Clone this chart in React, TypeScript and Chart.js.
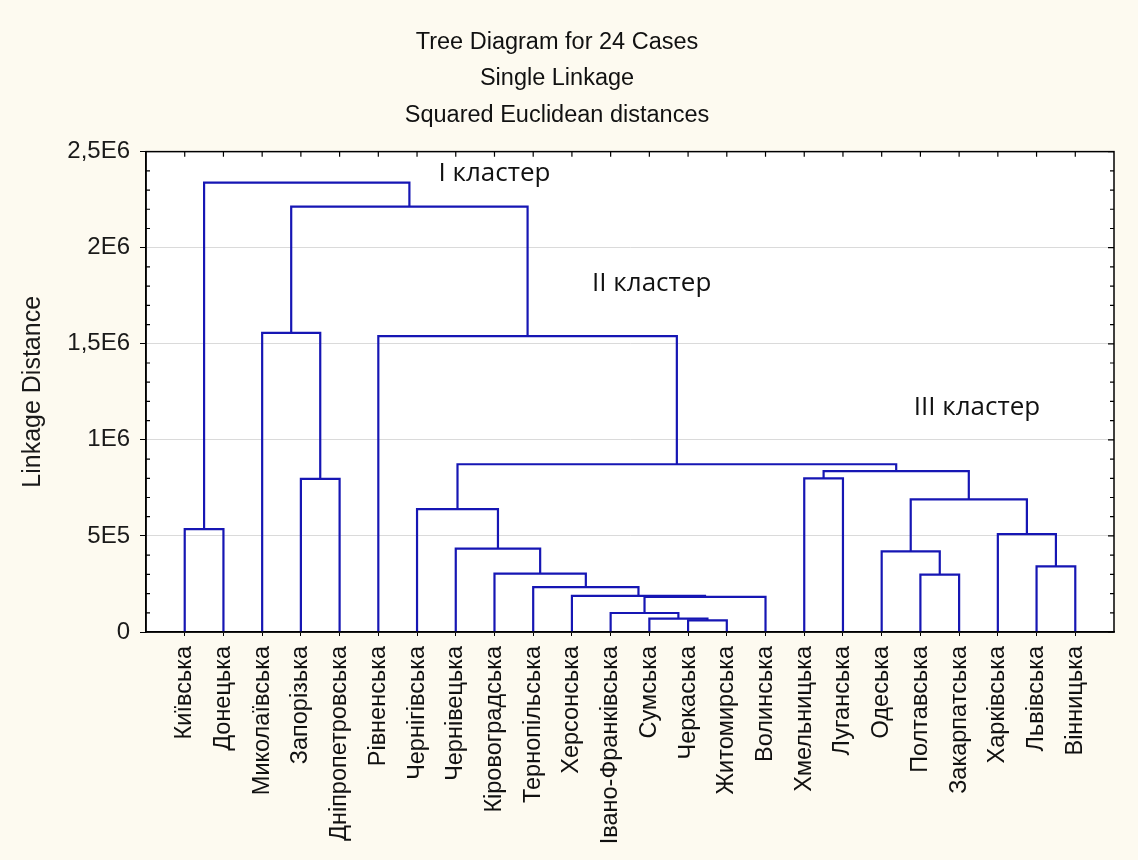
import React, { useEffect, useRef } from "react";
import { Chart, registerables } from "chart.js";

Chart.register(...registerables);

// ---- Data ----
const regions: string[] = [
  "Київська", "Донецька", "Миколаївська", "Запорізька", "Дніпропетровська",
  "Рівненська", "Чернігівська", "Чернівецька", "Кіровоградська", "Тернопільська",
  "Херсонська", "Івано-Франківська", "Сумська", "Черкаська", "Житомирська",
  "Волинська", "Хмельницька", "Луганська", "Одеська", "Полтавська",
  "Закарпатська", "Харківська", "Львівська", "Вінницька",
];

// merge k creates node id 24 + k ; ids < 24 are leaves (index in regions)
const mergeLeft: number[] = [13, 12, 11, 26, 10, 9, 19, 8, 22, 18, 7, 21, 0, 6, 33, 3, 16, 40, 37, 5, 2, 44, 36];
const mergeRight: number[] = [14, 24, 25, 15, 27, 28, 20, 29, 23, 30, 31, 32, 1, 34, 35, 4, 17, 38, 41, 42, 39, 43, 45];
const mergeHeight: number[] = [
  61000, 70000, 99000, 183000, 188000, 234000, 299000, 304000, 342000, 420000,
  434000, 509000, 535000, 639000, 690000, 797000, 799000, 837000, 873000,
  1540000, 1557000, 2214000, 2339000,
];

const yTickValues: number[] = [0, 500000, 1000000, 1500000, 2000000, 2500000];
const yTickLabels: string[] = ["0", "5E5", "1E6", "1,5E6", "2E6", "2,5E6"];

const titleLines: string[] = ["Tree Diagram for 24 Cases", "Single Linkage", "Squared Euclidean distances"];
const yAxisTitle = "Linkage Distance";

const clusterLabels: string[] = ["I кластер", "II кластер", "III кластер"];
// annotation anchors in data units (x: leaf axis, y: linkage distance)
const clusterLabelX: number[] = [9.0, 13.06, 21.46];
const clusterLabelY: number[] = [2384000, 1811000, 1170000];

const LINE_COLOR = "#1616b4";
const BG = "#fdfaf0";

function buildSegments() {
  const n = regions.length;
  const center: number[] = regions.map((_, i) => i + 1);
  const height: number[] = regions.map(() => 0);
  const segs: { x: number; y: number }[][] = [];
  for (let k = 0; k < mergeHeight.length; k++) {
    const a = mergeLeft[k];
    const b = mergeRight[k];
    const h = mergeHeight[k];
    segs.push([
      { x: center[a], y: height[a] },
      { x: center[a], y: h },
      { x: center[b], y: h },
      { x: center[b], y: height[b] },
    ]);
    center[n + k] = (center[a] + center[b]) / 2;
    height[n + k] = h;
  }
  return segs;
}

const framePlugin = {
  id: "frame",
  beforeDraw(chart: any) {
    const { ctx, chartArea } = chart;
    ctx.save();
    ctx.fillStyle = "#ffffff";
    ctx.fillRect(chartArea.left, chartArea.top, chartArea.right - chartArea.left, chartArea.bottom - chartArea.top);
    ctx.restore();
  },
  afterDraw(chart: any) {
    const { ctx, chartArea } = chart;
    const { left, right, top, bottom } = chartArea;
    const ys = chart.scales.y;
    const xs = chart.scales.x;
    ctx.save();
    ctx.strokeStyle = "#000";
    ctx.lineWidth = 1.5;
    ctx.strokeRect(left, top, right - left, bottom - top);
    ctx.lineWidth = 1.2;
    ctx.beginPath();
    for (let v = 0; v <= 2500000; v += 100000) {
      const py = ys.getPixelForValue(v);
      const major = v % 500000 === 0;
      if (!major) {
        ctx.moveTo(left, py);
        ctx.lineTo(left + 4, py);
      }
      ctx.moveTo(right, py);
      ctx.lineTo(right - (major ? 6 : 4), py);
    }
    for (let i = 1; i <= regions.length; i++) {
      const px = xs.getPixelForValue(i);
      ctx.moveTo(px, top);
      ctx.lineTo(px, top + 5);
    }
    ctx.stroke();
    // cluster annotations
    ctx.fillStyle = "#111";
    ctx.font = "26px 'Open Sans'";
    ctx.textAlign = "center";
    ctx.textBaseline = "middle";
    for (let i = 0; i < clusterLabels.length; i++) {
      ctx.fillText(clusterLabels[i], xs.getPixelForValue(clusterLabelX[i]), ys.getPixelForValue(clusterLabelY[i]));
    }
    ctx.restore();
  },
};

export default function App() {
  const ref = useRef<HTMLCanvasElement | null>(null);
  useEffect(() => {
    if (!ref.current) return;
    const segs = buildSegments();
    const chart = new Chart(ref.current, {
      type: "scatter",
      data: {
        datasets: segs.map((s) => ({
          data: s,
          showLine: true,
          borderColor: LINE_COLOR,
          borderWidth: 2.2,
          pointRadius: 0,
          tension: 0,
          fill: false,
        })),
      },
      options: {
        responsive: false,
        animation: false,
        layout: { padding: { left: 0, right: 24, top: 0, bottom: 0 } },
        plugins: {
          legend: { display: false },
          tooltip: { enabled: false },
          title: {
            display: true,
            text: titleLines,
            color: "#111",
            font: { family: "'Liberation Sans', Arial", size: 23.5, weight: "normal", lineHeight: 1.555 },
            padding: { top: 24, bottom: 18 },
          },
        },
        scales: {
          x: {
            type: "linear",
            min: 0,
            max: 25,
            afterBuildTicks: (scale: any) => {
              scale.ticks = regions.map((_, i) => ({ value: i + 1 }));
            },
            afterFit: (scale: any) => {
              scale.height = 228;
            },
            ticks: {
              autoSkip: false,
              minRotation: 90,
              maxRotation: 90,
              padding: 10,
              color: "#111",
              font: { family: "'Liberation Sans', Arial", size: 23.5 },
              callback: (v: any) => regions[Number(v) - 1] ?? "",
            },
            grid: { display: true, drawOnChartArea: false, drawTicks: true, tickLength: 4, tickColor: "#000" },
            border: { display: true, color: "#000", width: 1.5 },
          },
          y: {
            type: "linear",
            min: 0,
            max: 2500000,
            afterBuildTicks: (scale: any) => {
              scale.ticks = yTickValues.map((v) => ({ value: v }));
            },
            afterFit: (scale: any) => {
              scale.width = 146;
            },
            ticks: {
              padding: 10,
              color: "#1a1a1a",
              font: { family: "'Liberation Sans', Arial", size: 24 },
              callback: (v: any) => {
                const i = yTickValues.indexOf(Number(v));
                return i >= 0 ? yTickLabels[i] : "";
              },
            },
            grid: { color: "#dadada", lineWidth: 1, drawTicks: true, tickLength: 6, tickColor: "#000" },
            border: { display: true, color: "#000", width: 1.5 },
            title: {
              display: true,
              text: yAxisTitle,
              color: "#1a1a1a",
              font: { family: "'Liberation Sans', Arial", size: 25 },
              padding: { top: 18, bottom: 0 },
            },
          },
        },
      },
      plugins: [framePlugin],
    } as any);
    return () => chart.destroy();
  }, []);
  return (
    <div style={{ position: "fixed", left: 0, top: 0, width: 1138, height: 860, background: BG }}>
      <canvas ref={ref} width={1138} height={860} style={{ display: "block" }} />
    </div>
  );
}
